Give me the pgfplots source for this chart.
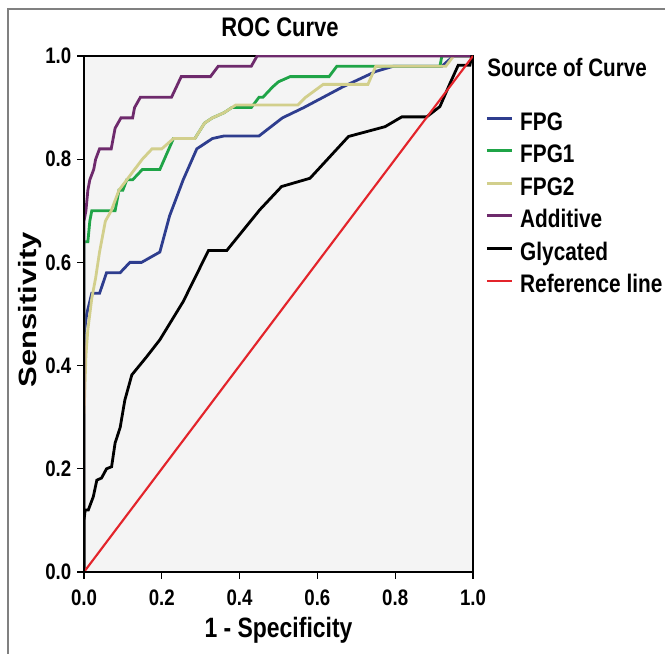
\documentclass[border=0pt]{standalone}
\usepackage{pgfplots}
\pgfplotsset{compat=1.18}
\usepackage{fontspec}
\setmainfont{Liberation Sans}

\definecolor{cfpg}{HTML}{2E3D8E}
\definecolor{cfpgone}{HTML}{1FA447}
\definecolor{cfpgtwo}{HTML}{D2CF8C}
\definecolor{cadd}{HTML}{6E2A6C}
\definecolor{cref}{HTML}{E3242B}
\definecolor{plotbg}{HTML}{F4F4F4}

% text in the reference is a bit stretched vertically
\newcommand{\T}[1]{\scalebox{1}[1.22]{#1}}

\begin{document}
\begin{tikzpicture}
\begin{axis}[
    width=291.75pt, height=387pt, scale only axis,
    xmin=0, xmax=1, ymin=0, ymax=1,
    xtick={0,0.2,0.4,0.6,0.8,1}, ytick={0,0.2,0.4,0.6,0.8,1},
    tick align=outside, xtick pos=bottom, ytick pos=left,
    major tick length=5pt,
    tick style={black, line width=0.9pt},
    axis line style={line width=1.1pt},
    axis background/.style={fill=plotbg},
    /pgf/number format/.cd, fixed, fixed zerofill, precision=1, assume math mode=true, /pgfplots/.cd,
    ticklabel style={font=\bfseries\fontsize{14}{16}\selectfont, yscale=1.2},
    xticklabel style={yshift=-3.5pt},
    yticklabel style={xshift=-1pt},
    title={\T{ROC Curve}},
    title style={at={(0.504,1.041)}, anchor=center, font=\bfseries\fontsize{16.5}{19}\selectfont},
    xlabel={\T{1 - Specificity}},
    xlabel style={at={(0.5,-0.112)}, anchor=center, font=\bfseries\fontsize{17.2}{20}\selectfont},
    ylabel={\scalebox{1.24}[1]{Sensitivity}},
    ylabel style={at={(-0.139,0.508)}, anchor=center, font=\bfseries\fontsize{18.75}{22}\selectfont},
    legend style={at={(1.021,0.893)}, anchor=north west, draw=none, fill=none,
        font=\bfseries\fontsize{15.6}{18}\selectfont, row sep=8.4pt,
        nodes={inner sep=0pt, text height=12pt, text depth=4pt}},
    legend cell align=left,
    legend image code/.code={\draw[#1] (0pt,5pt) -- (19pt,5pt); \path (24pt,5pt);},
]
\addplot[cfpg, line width=2.1pt] coordinates {
    (0,0) (0,0.46) (0.007,0.50) (0.02,0.54) (0.04,0.54) (0.058,0.58) (0.093,0.58)
    (0.118,0.60) (0.148,0.60) (0.195,0.62) (0.22,0.69) (0.255,0.76) (0.29,0.82)
    (0.33,0.84) (0.36,0.845) (0.45,0.845) (0.51,0.88) (0.565,0.90) (0.665,0.94)
    (0.75,0.97) (0.795,0.98) (0.92,0.98) (0.95,1.0) (1,1)
};
\addlegendentry{\T{FPG}}
\addplot[cfpgone, line width=2.1pt] coordinates {
    (0,0) (0,0.64) (0.01,0.64) (0.015,0.68) (0.02,0.70) (0.08,0.70) (0.09,0.74)
    (0.10,0.74) (0.11,0.76) (0.125,0.76) (0.15,0.78) (0.195,0.78) (0.23,0.84)
    (0.285,0.84) (0.31,0.87) (0.33,0.88) (0.36,0.89) (0.38,0.90) (0.43,0.90)
    (0.45,0.92) (0.46,0.92) (0.485,0.94) (0.50,0.95) (0.53,0.96) (0.63,0.96)
    (0.65,0.98) (0.915,0.98) (0.92,1.0) (1,1)
};
\addlegendentry{\T{FPG1}}
\addplot[cfpgtwo, line width=2.1pt] coordinates {
    (0,0) (0,0.30) (0.005,0.42) (0.01,0.47) (0.02,0.53) (0.03,0.57) (0.04,0.62)
    (0.055,0.68) (0.07,0.70) (0.09,0.74) (0.12,0.77) (0.15,0.80) (0.175,0.82)
    (0.2,0.82) (0.23,0.84) (0.285,0.84) (0.31,0.87) (0.33,0.88) (0.36,0.89)
    (0.39,0.905) (0.55,0.905) (0.57,0.92) (0.615,0.945) (0.73,0.945) (0.75,0.98)
    (0.93,0.98) (0.95,1.0) (1,1)
};
\addlegendentry{\T{FPG2}}
\addplot[cadd, line width=2.1pt] coordinates {
    (0,0) (0,0.68) (0.005,0.70) (0.01,0.74) (0.015,0.76) (0.025,0.78) (0.03,0.80)
    (0.04,0.82) (0.07,0.82) (0.08,0.86) (0.095,0.88) (0.125,0.88) (0.13,0.90)
    (0.145,0.92) (0.225,0.92) (0.25,0.96) (0.325,0.96) (0.345,0.98) (0.43,0.98)
    (0.445,1.0) (1,1)
};
\addlegendentry{\T{Additive}}
\addplot[black, line width=2.1pt] coordinates {
    (0,0) (0,0.10) (0.003,0.12) (0.011,0.12) (0.024,0.146) (0.033,0.178)
    (0.045,0.182) (0.058,0.20) (0.071,0.204) (0.08,0.25) (0.093,0.28)
    (0.105,0.333) (0.123,0.382) (0.161,0.417) (0.195,0.45) (0.255,0.524)
    (0.32,0.623) (0.367,0.623) (0.41,0.663) (0.452,0.702) (0.508,0.747)
    (0.581,0.763) (0.68,0.844) (0.774,0.863) (0.817,0.882) (0.881,0.882)
    (0.915,0.902) (0.941,0.947) (0.962,0.982) (0.992,0.982) (0.997,1.0) (1,1)
};
\addlegendentry{\T{Glycated}}
\addplot[cref, line width=1.6pt] coordinates {(0,0) (1,1)};
\addlegendentry{\T{Reference line}}

\coordinate (ltitle) at (rel axis cs:1.036,0.977);
\coordinate (aTL) at (rel axis cs:0,1);
\coordinate (aBL) at (rel axis cs:0,0);
\coordinate (aBR) at (rel axis cs:1,0);
\coordinate (bbSW) at (rel axis cs:-0.2159,-0.1589);
\coordinate (bbNE) at (rel axis cs:1.4936,1.1085);
\coordinate (frBL) at (rel axis cs:-0.1954,-0.1589);
\coordinate (frTL) at (rel axis cs:-0.1954,1.0911);
\coordinate (frTR) at (rel axis cs:1.4936,1.0911);
\end{axis}
\draw[line width=1.8pt] (aTL) -- (aBL) -- (aBR);
\node[anchor=west, inner sep=0pt, font=\bfseries\fontsize{15.5}{18}\selectfont]
    at (ltitle) {\T{Source of Curve}};
\draw[gray, line width=0.8pt] (frBL) -- (frTL) -- (frTR);
\pgfresetboundingbox
\useasboundingbox (bbSW) rectangle (bbNE);
\end{tikzpicture}
\end{document}
